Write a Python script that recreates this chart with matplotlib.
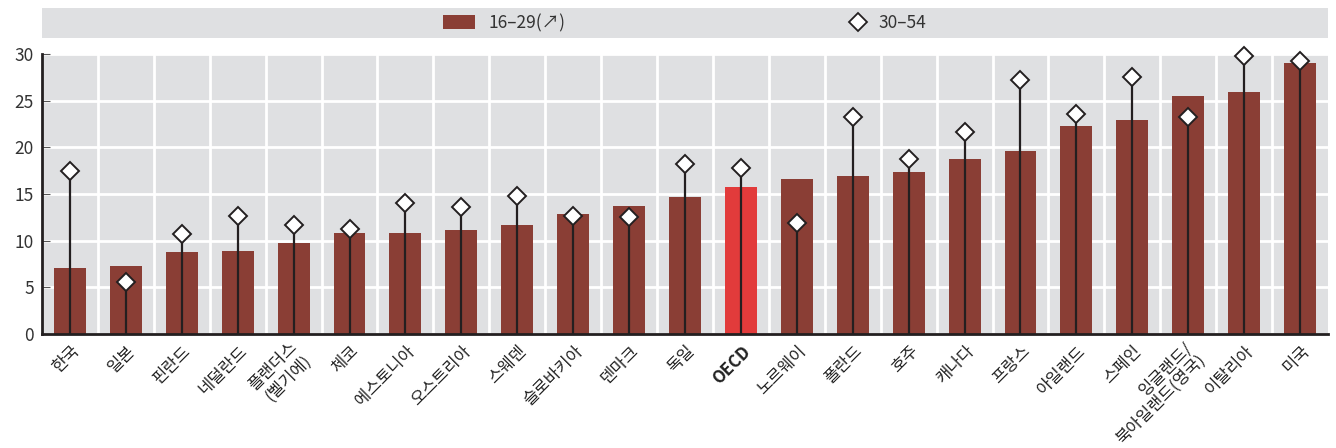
import matplotlib
matplotlib.use("Agg")
import matplotlib.pyplot as plt
from matplotlib.lines import Line2D
from matplotlib.patches import Patch
from matplotlib.transforms import ScaledTranslation
import numpy as np

plt.rcParams['font.family'] = ['Noto Sans CJK KR', 'DejaVu Sans']

countries = ["한국", "일본", "핀란드", "네덜란드", "플랜더스\n(벨기에)", "체코", "에스토니아",
             "오스트리아", "스웨덴", "슬로바키아", "덴마크", "독일", "OECD", "노르웨이", "폴란드",
             "호주", "캐나다", "프랑스", "아일랜드", "스페인", "잉글랜드/\n북아일랜드(영국)",
             "이탈리아", "미국"]
age_16_29 = [7.1, 7.3, 8.8, 8.9, 9.7, 10.8, 10.8, 11.1, 11.7, 12.9, 13.7, 14.7, 15.7,
             16.6, 16.9, 17.4, 18.8, 19.6, 22.3, 22.9, 25.5, 25.9, 29.0]
age_30_54 = [17.5, 5.6, 10.7, 12.6, 11.7, 11.3, 14.0, 13.6, 14.8, 12.6, 12.5, 18.2, 17.8,
             11.9, 23.2, 18.8, 21.6, 27.2, 23.6, 27.5, 23.3, 29.8, 29.3]
yticks = [0, 5, 10, 15, 20, 25, 30]
legend_labels = ["16–29(↗)", "30–54"]

bar_color = "#8A3E35"
oecd_color = "#E23B3B"
bg = "#DFE0E2"
dark = "#231F20"

fig = plt.figure(figsize=(13.36, 4.48), dpi=100)
ax = fig.add_axes([42/1336, 1-334/448, (1328-42)/1336, (334-54)/448])
ax.set_facecolor(bg)

x = np.arange(len(countries))
colors = [oecd_color if c == "OECD" else bar_color for c in countries]
ax.bar(x, age_16_29, width=0.57, color=colors, zorder=2)
ax.vlines(x, 0, age_30_54, color=dark, lw=1.6, zorder=3)
ax.plot(x, age_30_54, linestyle='none', marker='D', markersize=9.5,
        markerfacecolor='white', markeredgecolor=dark, markeredgewidth=1.4, zorder=4,
        clip_on=False)

ax.set_xlim(-0.5, len(countries) - 0.5)
ax.set_ylim(0, 30)
ax.set_yticks(yticks)
ax.set_yticklabels([str(v) for v in yticks], fontsize=12.5, color="#333333")
ax.set_xticks(x)
ax.set_xticks(x[:-1] + 0.5, minor=True)
ax.tick_params(axis='x', which='both', length=0, pad=6)
ax.tick_params(axis='y', direction='in', length=6, color="#555555", pad=6)
ax.set_xticklabels(countries, rotation=45, ha='right', va='center', rotation_mode='anchor',
                   fontsize=12, color="#222222", linespacing=1.1)
for lbl in ax.get_xticklabels():
    txt = lbl.get_text()
    if txt == "OECD":
        lbl.set_fontweight('bold')
    if "\n" in txt:
        dx, dy = 0.08, -0.09
    else:
        dx, dy = 0.07, -0.065
    lbl.set_transform(lbl.get_transform() + ScaledTranslation(dx, dy, fig.dpi_scale_trans))
ax.grid(axis='y', color='white', lw=2, zorder=1)
ax.grid(axis='x', which='minor', color='white', lw=2, zorder=1)
ax.set_axisbelow(True)
for s in ['top', 'right']:
    ax.spines[s].set_visible(False)
for s in ['left', 'bottom']:
    ax.spines[s].set_color(dark)
    ax.spines[s].set_linewidth(2)

# legend band
lax = fig.add_axes([42/1336, 1-38/448, (1328-42)/1336, 30/448])
lax.set_facecolor(bg)
lax.set_xticks([]); lax.set_yticks([])
for s in lax.spines.values():
    s.set_visible(False)
h1 = Patch(facecolor=bar_color, edgecolor='none')
h2 = Line2D([], [], linestyle='none', marker='D', markersize=9,
            markerfacecolor='white', markeredgecolor=dark, markeredgewidth=1.3)
l1 = lax.legend([h1], [legend_labels[0]], loc='center left', bbox_to_anchor=(0.300, 0.5),
                frameon=False, fontsize=12.5, handlelength=1.8, handleheight=0.9,
                handletextpad=0.8, labelcolor="#333333")
lax.add_artist(l1)
lax.legend([h2], [legend_labels[1]], loc='center left', bbox_to_anchor=(0.614, 0.5),
           frameon=False, fontsize=12.5, handlelength=1.2, handletextpad=0.6,
           labelcolor="#333333")

fig.savefig("out.png", dpi=100)
